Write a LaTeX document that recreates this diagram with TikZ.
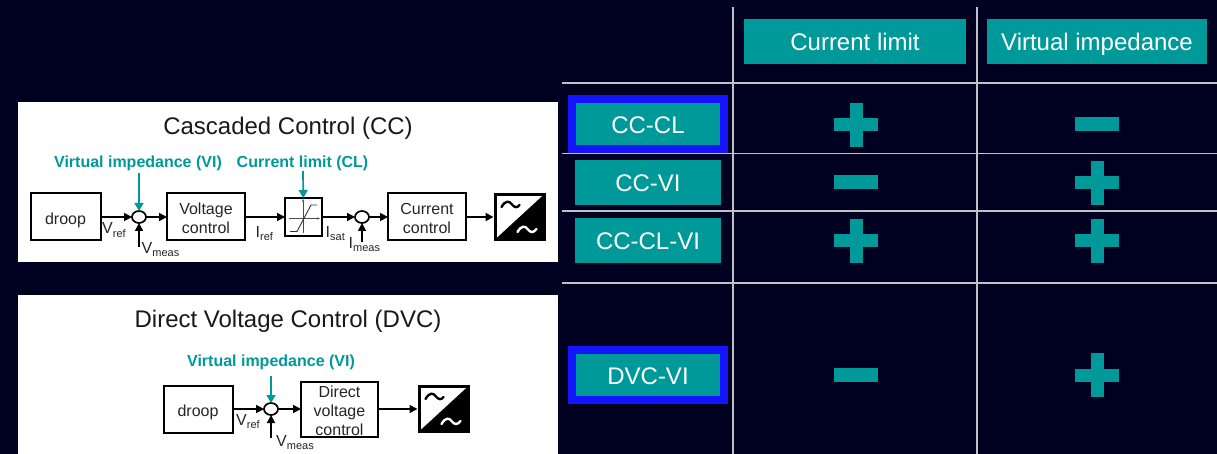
\documentclass[tikz,border=0pt]{standalone}
\usepackage{fontspec}
\setmainfont{Liberation Sans}
\usetikzlibrary{shapes.geometric,arrows.meta,positioning}
\definecolor{bgnavy}{HTML}{000020}
\definecolor{tealc}{HTML}{009999}
\definecolor{blueb}{HTML}{1414FF}
\definecolor{gridc}{HTML}{C0C0C8}
\newcommand{\fs}[1]{\fontsize{#1}{#1}\selectfont}
\newcommand{\lab}[2]{#1{\fontsize{11}{11}\selectfont\raisebox{-3pt}{#2}}}
\newcommand{\fl}{\rule{0pt}{15pt}}
\tikzset{
  x=1pt,y=-1pt,
  panel/.style={fill=white,draw=none,minimum width=540,minimum height=160,inner sep=0,outer sep=0},
  blk/.style={draw=black,line width=2,fill=white,align=center,inner sep=0,outer sep=0,font=\fs{16},text=black!85,text depth=0pt},
  sumc/.style={ellipse,draw=black,line width=1.7,fill=white,minimum width=14,minimum height=12,inner sep=0,outer sep=0},
  sig/.style={draw=black,line width=1.7,-{Triangle[length=8,width=8]}},
  vi/.style={draw=tealc,line width=1.7,-{Triangle[length=8,width=9]}},
  vitext/.style={font=\bfseries\fs{16},text=tealc,inner sep=0,text height=12,text depth=0},
  title/.style={font=\fs{24},text=black!90,inner sep=0,text height=17,text depth=0},
  sublab/.style={font=\fs{16},text=black!85,inner sep=0,anchor=base west},
  tbox/.style={fill=tealc,text=white,inner sep=0,outer sep=0,font=\fs{24},text height=19,text depth=0},
  hl/.style={draw=blueb,line width=8},
  grid/.style={draw=gridc,line width=1.2},
}
\newcommand{\plusat}[2]{\fill[tealc] (#1-22,#2-6.5) rectangle (#1+22,#2+6.5);\fill[tealc] (#1-6.5,#2-22) rectangle (#1+6.5,#2+22);}
\newcommand{\minusat}[2]{\fill[tealc] (#1-22,#2-7) rectangle (#1+21.5,#2+7);}
\newcommand{\conv}[3]{%
 \node[draw=black,line width=3,fill=white,minimum width=49,minimum height=45,inner sep=0,outer sep=1.5] (#3) at (#1,#2) {};
 \fill[black] (#1+25,#2-23) -- (#1+25,#2+23) -- (#1-25,#2+23) -- cycle;
 \draw[black,line width=2.4,line cap=round] (#1-18,#2-10) .. controls (#1-14,#2-17) and (#1-10,#2-16) .. (#1-8,#2-13) .. controls (#1-5,#2-9) and (#1-2,#2-9) .. (#1,#2-12);
 \draw[white,line width=2.4,line cap=round] (#1-2,#2+15) .. controls (#1+2,#2+8) and (#1+6,#2+9) .. (#1+8,#2+12) .. controls (#1+11,#2+16) and (#1+14,#2+16) .. (#1+17,#2+12);
}
\begin{document}
\begin{tikzpicture}
\useasboundingbox (0,0) rectangle (1217,454);
\fill[bgnavy] (0,0) rectangle (1217,454);
% panels
\node[panel] (p1) at (288,182) {};
\node[panel] (p2) at (288,375) {};
\node[title] (t1) at (288,126) {Cascaded Control (CC)};
\node[title] (t2) at (288,319) {Direct Voltage Control (DVC)};
% CC
\node[blk,minimum width=70,minimum height=47,text height=15] (droop1) at (65.5,217) {droop};
\node[sumc] (s1) at (139,217) {};
\node[blk,minimum width=78,minimum height=47] (vc) at (206,217) {\fl Voltage\\[3pt]control};
\node[blk,minimum width=37,minimum height=38] (sat) at (303.5,217) {};
\node[sumc] (s2) at (362,217) {};
\node[blk,minimum width=78,minimum height=47] (cc) at (427,217) {\fl Current\\[3pt]control};
\conv{519.5}{217}{cv1}
\node[vitext] (vi1) at (138,161.5) {Virtual impedance (VI)};
\node[vitext] (cl1) at (302.5,161.5) {Current limit (CL)};
\coordinate (vm1) at (139,247);
\coordinate (im1) at (362,242);
\draw[sig] (droop1) -- (s1);
\draw[sig] (s1) -- (vc);
\draw[sig] (vc) -- (sat);
\draw[sig] (sat) -- (s2);
\draw[sig] (s2) -- (cc);
\draw[sig] (cc) -- (cv1);
\draw[sig] (vm1) -- (s1);
\draw[sig] (im1) -- (s2);
\coordinate (vi1t) at (139,173);
\coordinate (cl1t) at (303,171);
\draw[vi] (vi1t) -- (s1);
\draw[vi] (cl1t) -- (sat);
% saturation symbol
\draw[black!70,line width=.5,-{Stealth[length=3]}] (289,218.5) -- (320,218.5);
\draw[black!70,line width=.5,-{Stealth[length=3]}] (303,233) -- (303,199);
\draw[black!80,line width=.9] (290,231.5) -- (297,231.5) -- (311,205) -- (317,205);
\node[sublab] (l1) at (102,234) {\lab{V}{ref}};
\node[sublab] (l2) at (141.5,254) {\lab{V}{meas}};
\node[sublab] (l3) at (255.5,237) {\lab{I}{ref}};
\node[sublab] (l4) at (325.5,237) {\lab{I}{sat}};
\node[sublab] (l5) at (348.5,248) {\lab{I}{meas}};
% DVC
\node[blk,minimum width=69,minimum height=47,text height=15] (droop2) at (198,409) {droop};
\node[sumc] (s3) at (271,409) {};
\node[blk,minimum width=77,minimum height=55] (dv) at (339.5,409) {\fl Direct\\[3pt]voltage\\[3pt]control};
\conv{443.5}{409}{cv2}
\node[vitext] (vi2) at (271,360.5) {Virtual impedance (VI)};
\coordinate (vi2t) at (271,376);
\coordinate (vm2) at (271,438);
\draw[sig] (droop2) -- (s3);
\draw[sig] (s3) -- (dv);
\draw[sig] (dv) -- (cv2);
\draw[sig] (vm2) -- (s3);
\draw[vi] (vi2t) -- (s3);
\node[sublab] (l6) at (236,425) {\lab{V}{ref}};
\node[sublab] (l7) at (276,446) {\lab{V}{meas}};
% grid
\coordinate (gv1a) at (733,7); \coordinate (gv1b) at (733,454);
\coordinate (gv2a) at (977,7); \coordinate (gv2b) at (977,454);
\draw[grid] (gv1a) -- (gv1b);
\draw[grid] (gv2a) -- (gv2b);
\foreach \y in {83,153.5,211,283} \draw[grid] (562,\y) -- (1217,\y);
% headers
\node[tbox,minimum width=222,minimum height=45] (h1) at (855,41.5) {Current limit};
\node[tbox,minimum width=220,minimum height=45] (h2) at (1097,41.5) {Virtual impedance};
% rows
\node[tbox,hl,minimum width=152,minimum height=50] (r1) at (648,124) {CC-CL};
\node[tbox,minimum width=146,minimum height=45] (r2) at (648,182.5) {CC-VI};
\node[tbox,minimum width=146,minimum height=45] (r3) at (648,240.5) {CC-CL-VI};
\node[tbox,hl,minimum width=152,minimum height=50] (r4) at (648,375) {DVC-VI};
% signs
\plusat{856}{125}
\minusat{1097}{124}
\minusat{856}{182}
\plusat{1097}{183}
\plusat{856}{241}
\plusat{1097}{241}
\minusat{856}{375}
\plusat{1097}{375}
\end{tikzpicture}
\end{document}
